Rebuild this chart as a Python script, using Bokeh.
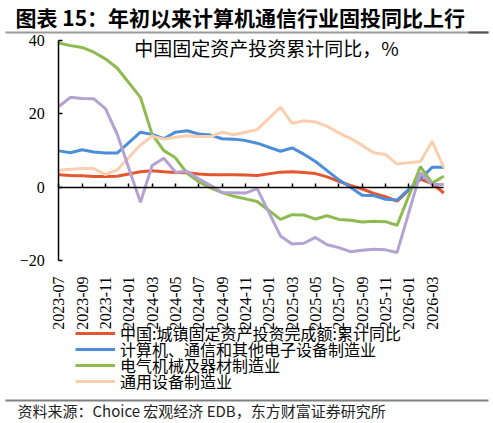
from bokeh.plotting import figure
from bokeh.models import (Range1d, FixedTicker, Label, Legend, LegendItem, BoxAnnotation,
                          LinearAxis, CustomJSTickFormatter)
from bokeh.embed import file_html
from bokeh.resources import INLINE

# ---------------- data ----------------
months = ["2023-07", "2023-08", "2023-09", "2023-10", "2023-11", "2023-12",
          "2024-02", "2024-03", "2024-04", "2024-05", "2024-06", "2024-07", "2024-08",
          "2024-09", "2024-10", "2024-11", "2024-12",
          "2025-02", "2025-03", "2025-04", "2025-05", "2025-06", "2025-07", "2025-08",
          "2025-09", "2025-10", "2025-11", "2025-12",
          "2026-02", "2026-03", "2026-04"]

fai_total = [3.4, 3.2, 3.1, 2.9, 2.9, 3.0,
             4.2, 4.5, 4.2, 4.0, 3.9, 3.6, 3.4, 3.4, 3.4, 3.3, 3.2,
             4.1, 4.2, 4.0, 3.7, 2.8, 1.6, 0.5, -0.5, -1.7, -2.6, -3.8,
             2.2, 1.0, -1.6]

computer_comm = [9.9, 9.4, 10.2, 9.6, 9.3, 9.3,
                 15.0, 14.4, 13.2, 15.0, 15.4, 14.5, 14.2, 13.2, 13.1, 12.7, 12.0,
                 9.8, 10.7, 9.0, 7.0, 4.5, 2.0, 0.0, -2.2, -2.3, -3.3, -3.5,
                 2.3, 5.4, 5.4]

electrical = [39.3, 38.6, 38.1, 36.8, 35.0, 32.5,
              24.5, 14.4, 10.0, 8.0, 3.8, 1.5, -0.2, -1.5, -2.5, -3.2, -3.9,
              -8.8, -7.5, -7.6, -8.7, -7.8, -8.8, -9.0, -9.5, -9.3, -9.4, -10.4,
              5.6, 1.1, 3.0]

general_equipment = [4.6, 4.9, 5.1, 5.1, 3.4, 4.7,
                     11.5, 13.9, 13.1, 13.6, 14.0, 13.8, 13.8, 15.0, 14.3, 15.0, 15.7,
                     21.8, 17.4, 18.1, 17.8, 16.6, 14.8, 13.3, 11.4, 9.4, 8.9, 6.3,
                     7.0, 12.5, 5.4]

unlabeled_series = [22.0, 24.5, 24.2, 24.1, 21.4, 14.5,
                    -4.1, 5.9, 7.9, 4.1, 4.3, 2.3, 0.5, -1.5, -1.5, -1.6, -0.4,
                    -13.3, -15.5, -15.3, -13.7, -15.7, -16.5, -17.6, -17.2, -16.9, -17.1, -17.8,
                    3.9, 0.7, 0.7]

tick_labels = ["2023-07", "2023-09", "2023-11", "2024-01", "2024-03", "2024-05",
               "2024-07", "2024-09", "2024-11", "2025-01", "2025-03", "2025-05",
               "2025-07", "2025-09", "2025-11", "2026-01", "2026-03"]

y_ticks = [-20, 0, 20, 40]

legend_labels = ["中国:城镇固定资产投资完成额:累计同比",
                 "计算机、通信和其他电子设备制造业",
                 "电气机械及器材制造业",
                 "通用设备制造业"]

title_text = "图表 15：年初以来计算机通信行业固投同比上行"
inner_title = "中国固定资产投资累计同比，%"
source_text = "资料来源：Choice 宏观经济 EDB，东方财富证券研究所"

colors = ["#E4572E", "#4C8EDA", "#8DBB4F", "#FBCFAE", "#B4A2D0"]

CJK = "Noto Sans CJK SC"
SERIF = "Liberation Serif"

# ---------------- layout constants (pixels) ----------------
W, H = 493, 423
PLOT_L, PLOT_R = 58.3, 443.3      # x pixel of month 0 and month 33
PLOT_T, PLOT_B = 40.0, 260.0      # y pixel of 40 and -20
X0, X1 = 0, 33
Y0, Y1 = -20, 40


def month_index(s):
    y, m = s.split("-")
    return (int(y) - 2023) * 12 + int(m) - 7


x = [month_index(s) for s in months]
tick_pos = [month_index(s) for s in tick_labels]

kx = (X1 - X0) / (PLOT_R - PLOT_L)
ky = (Y1 - Y0) / (PLOT_B - PLOT_T)
x_range = Range1d(X0 - PLOT_L * kx, X1 + (W - PLOT_R) * kx)
y_range = Range1d(Y0 - (H - PLOT_B) * ky, Y1 + PLOT_T * ky)

p = figure(width=W, height=H, output_backend="svg", toolbar_location=None,
           x_range=x_range, y_range=y_range,
           min_border=0, min_border_left=0, min_border_right=0,
           min_border_top=0, min_border_bottom=0)
p.outline_line_color = None
p.xgrid.visible = False
p.ygrid.visible = False
p.background_fill_color = "white"
p.border_fill_color = "white"

# x axis carrying the month labels (drawn below -20)
xa = p.xaxis[0]
xa.fixed_location = Y0
xa.ticker = FixedTicker(ticks=tick_pos)
xa.major_label_overrides = {t: l for t, l in zip(tick_pos, tick_labels)}
xa.major_label_orientation = 3.14159265 / 2
xa.axis_line_color = None
xa.major_tick_line_color = None
xa.minor_tick_line_color = None
xa.major_label_text_font = SERIF
xa.major_label_text_font_size = "16px"
xa.major_label_text_color = "black"
xa.major_label_standoff = 10

# y axis
ya = p.yaxis[0]
ya.fixed_location = X0
ya.bounds = (Y0, Y1)
ya.ticker = FixedTicker(ticks=y_ticks)
ya.axis_line_color = "black"
ya.axis_line_width = 1.5
ya.major_tick_in = 4
ya.major_tick_out = 0
ya.major_tick_line_width = 1.5
ya.minor_tick_line_color = None
ya.major_label_text_font = SERIF
ya.major_label_text_font_size = "16px"
ya.major_label_text_color = "black"
ya.major_label_standoff = 14

# horizontal axis line at zero with inward ticks
zero_axis = LinearAxis(fixed_location=0, bounds=(X0, X1),
                       ticker=FixedTicker(ticks=tick_pos),
                       formatter=CustomJSTickFormatter(code="return ''"),
                       axis_line_color="black", axis_line_width=1.5,
                       major_tick_in=4, major_tick_out=0, major_tick_line_width=1.5,
                       minor_tick_line_color=None)
p.add_layout(zero_axis, "below")

lw = 3
series = [fai_total, computer_comm, electrical, general_equipment, unlabeled_series]
renderers = [p.line(x, vals, line_color=c, line_width=lw) for vals, c in zip(series, colors)]

p.add_layout(Label(x=17.8, y=38.1, text=inner_title, text_align="center",
                   text_baseline="middle", text_font=CJK,
                   text_font_size="19px", text_color="black"))

# title and separator (screen units from bottom-left)
p.add_layout(Label(x=15, y=H - 16, x_units="screen", y_units="screen", text=title_text,
                   text_align="left", text_baseline="middle", text_font=CJK,
                   text_font_size="21px", text_font_style="bold", text_color="black"))


def hbar(left, right, y_top_px, thick, color):
    return BoxAnnotation(left=left, right=right, bottom=H - y_top_px - thick, top=H - y_top_px,
                         left_units="screen", right_units="screen",
                         bottom_units="screen", top_units="screen",
                         fill_color=color, fill_alpha=1, line_color=None)


p.add_layout(hbar(5, 488, 31, 2, "#9A9A9A"))
p.add_layout(hbar(468, 488, 31, 2, "#555555"))

# legend rows
row_centers_px = [334, 350, 366, 382]
for lab, r, cy in zip(legend_labels, renderers[:4], row_centers_px):
    lg = Legend(items=[LegendItem(label=lab, renderers=[r])],
                location=(75, H - cy - 11), orientation="vertical", spacing=0, padding=0,
                margin=0, glyph_width=40, glyph_height=22, label_height=22, label_standoff=5,
                label_text_font=CJK, label_text_font_size="16px",
                label_text_color="black", background_fill_alpha=0, border_line_color=None)
    p.add_layout(lg)

# bottom separator and source
p.add_layout(hbar(5, 488, 399, 2, "#808080"))
p.add_layout(Label(x=17, y=H - 410, x_units="screen", y_units="screen", text=source_text,
                   text_align="left", text_baseline="middle", text_font=CJK,
                   text_font_size="15px", text_color="#222222"))

open("out.html", "w").write(file_html(p, INLINE))
